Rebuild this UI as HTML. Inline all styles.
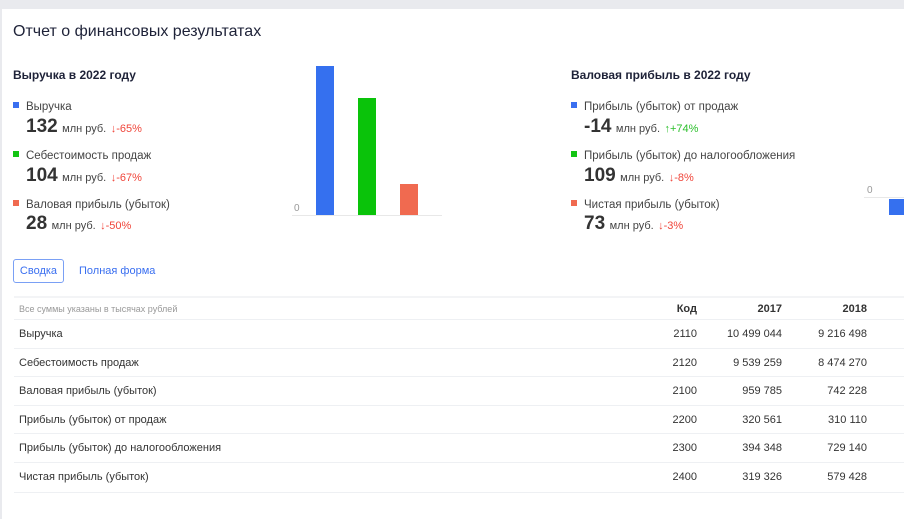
<!DOCTYPE html>
<html><head><meta charset="utf-8"><style>
body{margin:0;width:904px;height:510px;overflow:hidden;background:#e9eaee;font-family:"Liberation Sans",sans-serif;color:#222}
.card{position:absolute;left:2px;top:9px;width:910px;height:510px;background:#fff}
.a{position:absolute;white-space:nowrap}
.h{font-size:12px;font-weight:bold;color:#1e2238}
.lg{font-size:11.5px;color:#444}
.sq{display:inline-block;width:6px;height:6px;margin-right:7px;vertical-align:2px}
.big{font-size:19px;font-weight:bold;color:#333}
.u{font-size:11px;color:#444}
.dn{font-size:11px;color:#f0453a}
.up{font-size:11px;color:#2bbf2b}
.row{position:absolute;left:14px;width:890px;border-top:1px solid #eef0f3;font-size:11px;color:#333}
.row span{position:absolute;top:0}
</style></head><body>
<div class="card"></div>
<div class="a" style="left:13px;top:23px;font-size:16px;color:#1e2238">Отчет о финансовых результатах</div>

<div class="a h" style="left:13px;top:68px">Выручка в 2022 году</div>
<div class="a lg" style="left:13px;top:101px"><span class="sq" style="background:#3a6ff0"></span>Выручка</div>
<div class="a" style="left:26px;top:116px"><span class="big">132</span> <span class="u">млн руб.</span> <span class="dn">↓-65%</span></div>
<div class="a lg" style="left:13px;top:150px"><span class="sq" style="background:#12c412"></span>Себестоимость продаж</div>
<div class="a" style="left:26px;top:165px"><span class="big">104</span> <span class="u">млн руб.</span> <span class="dn">↓-67%</span></div>
<div class="a lg" style="left:13px;top:199px"><span class="sq" style="background:#f06a50"></span>Валовая прибыль (убыток)</div>
<div class="a" style="left:26px;top:213px"><span class="big">28</span> <span class="u">млн руб.</span> <span class="dn">↓-50%</span></div>

<div class="a" style="left:294px;top:203px;font-size:10px;color:#999">0</div>
<div class="a" style="left:292px;top:215px;width:150px;height:1px;background:#e8e8e8"></div>
<div class="a" style="left:316px;top:66px;width:18px;height:149px;background:#3570ef"></div>
<div class="a" style="left:358px;top:98px;width:18px;height:117px;background:#0ac30a"></div>
<div class="a" style="left:400px;top:184px;width:18px;height:31px;background:#f06a50"></div>

<div class="a h" style="left:571px;top:68px">Валовая прибыль в 2022 году</div>
<div class="a lg" style="left:571px;top:101px"><span class="sq" style="background:#3a6ff0"></span>Прибыль (убыток) от продаж</div>
<div class="a" style="left:584px;top:116px"><span class="big">-14</span> <span class="u">млн руб.</span> <span class="up">↑+74%</span></div>
<div class="a lg" style="left:571px;top:150px"><span class="sq" style="background:#12c412"></span>Прибыль (убыток) до налогообложения</div>
<div class="a" style="left:584px;top:165px"><span class="big">109</span> <span class="u">млн руб.</span> <span class="dn">↓-8%</span></div>
<div class="a lg" style="left:571px;top:199px"><span class="sq" style="background:#f06a50"></span>Чистая прибыль (убыток)</div>
<div class="a" style="left:584px;top:213px"><span class="big">73</span> <span class="u">млн руб.</span> <span class="dn">↓-3%</span></div>
<div class="a" style="left:867px;top:185px;font-size:10px;color:#999">0</div>
<div class="a" style="left:864px;top:197px;width:40px;height:1px;background:#e8e8e8"></div>
<div class="a" style="left:889px;top:199px;width:15px;height:16px;background:#3570ef"></div>

<div class="a" style="left:13px;top:259px;width:51px;height:24px;border:1px solid #7aa0f5;border-radius:3px;box-sizing:border-box;font-size:11px;color:#3a6ff0;text-align:center;line-height:22px">Сводка</div>
<div class="a" style="left:79px;top:265px;font-size:11px;color:#3a6ff0">Полная форма</div>

<div class="row" style="top:296px;height:23px;line-height:23px;border-top:2px solid #f3f4f6"><span style="left:5px;font-size:9px;color:#999">Все суммы указаны в тысячах рублей</span><span style="right:207px;font-weight:bold">Код</span><span style="right:122px;font-weight:bold">2017</span><span style="right:37px;font-weight:bold">2018</span></div>
<div class="row" style="top:319px;height:29px;line-height:28px"><span style="left:5px">Выручка</span><span style="right:207px">2110</span><span style="right:122px">10 499 044</span><span style="right:37px">9 216 498</span></div>
<div class="row" style="top:348px;height:28px;line-height:28px"><span style="left:5px">Себестоимость продаж</span><span style="right:207px">2120</span><span style="right:122px">9 539 259</span><span style="right:37px">8 474 270</span></div>
<div class="row" style="top:376px;height:29px;line-height:28px"><span style="left:5px">Валовая прибыль (убыток)</span><span style="right:207px">2100</span><span style="right:122px">959 785</span><span style="right:37px">742 228</span></div>
<div class="row" style="top:405px;height:28px;line-height:28px"><span style="left:5px">Прибыль (убыток) от продаж</span><span style="right:207px">2200</span><span style="right:122px">320 561</span><span style="right:37px">310 110</span></div>
<div class="row" style="top:433px;height:29px;line-height:28px"><span style="left:5px">Прибыль (убыток) до налогообложения</span><span style="right:207px">2300</span><span style="right:122px">394 348</span><span style="right:37px">729 140</span></div>
<div class="row" style="top:462px;height:29px;line-height:28px;border-bottom:1px solid #eef0f3"><span style="left:5px">Чистая прибыль (убыток)</span><span style="right:207px">2400</span><span style="right:122px">319 326</span><span style="right:37px">579 428</span></div>
</body></html>
